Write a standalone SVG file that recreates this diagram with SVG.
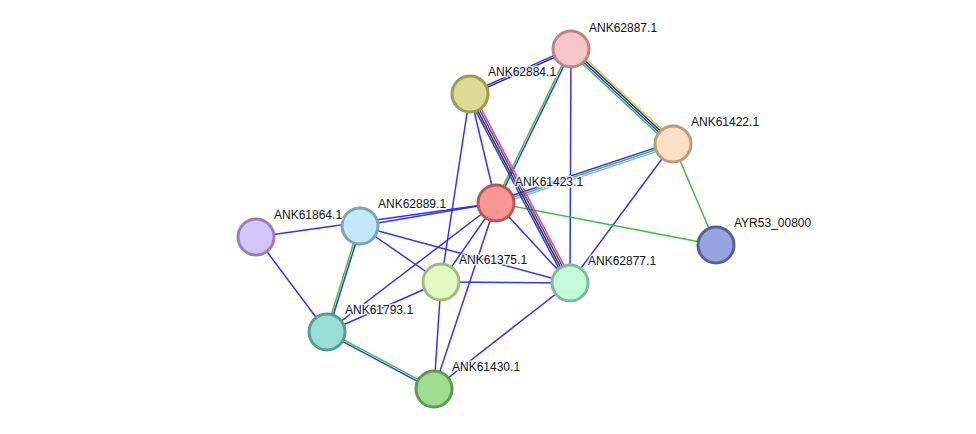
<svg xmlns="http://www.w3.org/2000/svg" width="976" height="434" viewBox="0 0 976 434">
<style>
.e{stroke-width:1.5;fill:none}
.b{stroke:#3434f4}
.g{stroke:#3cc03c}
.k{stroke:#333333}
.d{stroke:#555555}
.m{stroke:#dd3ddd}
.y{stroke:#c8d23c}
.l{stroke:#a4a4ff}
.n{stroke-width:3}
text{font-family:"Liberation Sans",Arial,sans-serif;font-size:12px;fill:#111;stroke:#fff;stroke-width:3;stroke-opacity:0.8;paint-order:stroke;stroke-linejoin:round}
</style>
<rect width="976" height="434" fill="#fff"/>
<g id="edges">
<line class="e b" x1="571" y1="49" x2="570" y2="283"/>
<line class="e b" x1="470" y1="94" x2="496" y2="203"/>
<line class="e b" x1="470" y1="94" x2="441" y2="282"/>
<line class="e b" x1="496" y1="203" x2="360" y2="226"/>
<line class="e b" x1="496" y1="203" x2="256" y2="237"/>
<line class="e b" x1="496" y1="203" x2="570" y2="283"/>
<line class="e b" x1="496" y1="203" x2="441" y2="282"/>
<line class="e b" x1="496" y1="203" x2="327" y2="332"/>
<line class="e b" x1="496" y1="203" x2="434" y2="389"/>
<line class="e b" x1="256" y1="237" x2="327" y2="332"/>
<line class="e b" x1="360" y1="226" x2="441" y2="282"/>
<line class="e b" x1="360" y1="226" x2="570" y2="283"/>
<line class="e b" x1="441" y1="282" x2="570" y2="283"/>
<line class="e b" x1="441" y1="282" x2="327" y2="332"/>
<line class="e b" x1="441" y1="282" x2="434" y2="389"/>
<line class="e b" x1="570" y1="283" x2="434" y2="389"/>
<line class="e b" x1="673" y1="144" x2="570" y2="283"/>
<line class="e g" x1="496" y1="203" x2="716" y2="245"/>
<line class="e g" x1="673" y1="144" x2="716" y2="245"/>
<line class="e y" x1="573.0" y1="46.8" x2="675.0" y2="141.8"/>
<line class="e k" x1="571.7" y1="48.3" x2="673.7" y2="143.3"/>
<line class="e b" x1="570.3" y1="49.7" x2="672.3" y2="144.7"/>
<line class="e g" x1="569.0" y1="51.2" x2="671.0" y2="146.2"/>
<line class="e b" x1="469.6" y1="93.1" x2="570.6" y2="48.1"/>
<line class="e k" x1="470.4" y1="94.9" x2="571.4" y2="49.9"/>
<line class="e g" x1="570.1" y1="48.6" x2="495.1" y2="202.6"/>
<line class="e b" x1="571.9" y1="49.4" x2="496.9" y2="203.4"/>
<line class="e b" x1="495.4" y1="201.1" x2="672.4" y2="142.1"/>
<line class="e g" x1="496" y1="203" x2="673" y2="144"/>
<line class="e l" x1="496.6" y1="204.9" x2="673.6" y2="145.9"/>
<line class="e b" x1="467.4" y1="95.4" x2="567.4" y2="284.4"/>
<line class="e k" x1="469.1" y1="94.5" x2="569.1" y2="283.5"/>
<line class="e d" x1="470.9" y1="93.5" x2="570.9" y2="282.5"/>
<line class="e m" x1="472.6" y1="92.6" x2="572.6" y2="281.6"/>
<line class="e g" x1="359.05" y1="225.7" x2="326.05" y2="331.7"/>
<line class="e b" x1="360.95" y1="226.3" x2="327.95" y2="332.3"/>
<line class="e g" x1="327.5" y1="331.1" x2="434.5" y2="388.1"/>
<line class="e b" x1="326.5" y1="332.9" x2="433.5" y2="389.9"/>
</g>
<g id="ANK62887.1"><circle class="n" cx="571" cy="49" r="18" fill="#f8c6c7" stroke="#b98585"/><text x="589" y="32">ANK62887.1</text></g>
<g id="ANK62884.1"><circle class="n" cx="470" cy="94" r="18" fill="#dcdb96" stroke="#9c9b55"/><text x="488" y="76">ANK62884.1</text></g>
<g id="ANK61422.1"><circle class="n" cx="673" cy="144" r="18" fill="#fddfc3" stroke="#bb9b7e"/><text x="691" y="126">ANK61422.1</text></g>
<g id="ANK61423.1"><circle class="n" cx="496" cy="203" r="18" fill="#fb9494" stroke="#bb5555"/><text x="515" y="186">ANK61423.1</text></g>
<g id="AYR53_00800"><circle class="n" cx="716" cy="245" r="18" fill="#99a3df" stroke="#555f9b"/><text x="734" y="227">AYR53_00800</text></g>
<g id="ANK62889.1"><circle class="n" cx="360" cy="226" r="18" fill="#c3e7fb" stroke="#7ba3bd"/><text x="378" y="208">ANK62889.1</text></g>
<g id="ANK61864.1"><circle class="n" cx="256" cy="237" r="18" fill="#d5c3fb" stroke="#9580bd"/><text x="274" y="219">ANK61864.1</text></g>
<g id="ANK61375.1"><circle class="n" cx="441" cy="282" r="18" fill="#e3fbc3" stroke="#a2bb7d"/><text x="459" y="264">ANK61375.1</text></g>
<g id="ANK62877.1"><circle class="n" cx="570" cy="283" r="18" fill="#c3fbdb" stroke="#7dbb98"/><text x="588" y="265">ANK62877.1</text></g>
<g id="ANK61793.1"><circle class="n" cx="327" cy="332" r="18" fill="#98ded6" stroke="#5b9b94"/><text x="345" y="314">ANK61793.1</text></g>
<g id="ANK61430.1"><circle class="n" cx="434" cy="389" r="18" fill="#a0dc92" stroke="#5f9c53"/><text x="452" y="371">ANK61430.1</text></g>
</svg>
